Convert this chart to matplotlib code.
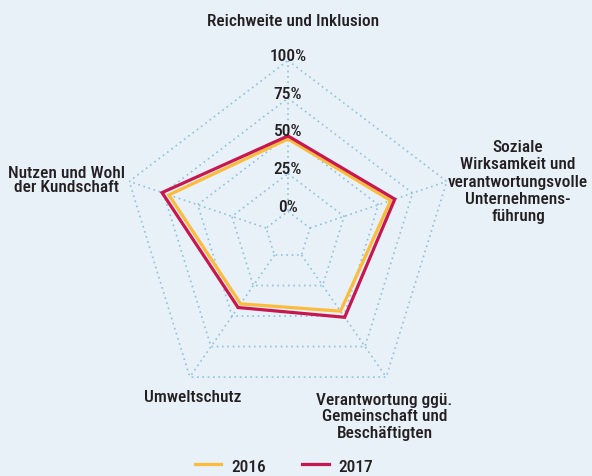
import numpy as np
import matplotlib
matplotlib.use("Agg")
import matplotlib.pyplot as plt
from matplotlib import font_manager

# ---------------- data ----------------
categories = [
    "Reichweite und Inklusion",
    "Soziale\nWirksamkeit und\nverantwortungsvolle\nUnternehmens-\nführung",
    "Verantwortung ggü.\nGemeinschaft und\nBeschäftigten",
    "Umweltschutz",
    "Nutzen und Wohl\nder Kundschaft",
]
values_2016 = [48, 59, 46, 40, 71]
values_2017 = [50, 62, 51, 43, 76]
series_names = ["2016", "2017"]
ring_levels = [0, 25, 50, 75, 100]
ring_labels = ["0%", "25%", "50%", "75%", "100%"]

# ---------------- style ----------------
BG = "#e8f0f8"
GRID = "#8cc3da"
TXT = "#231f20"
C2016 = "#fbbc3c"
C2017 = "#c8174f"

avail = {f.name for f in font_manager.fontManager.ttflist}
fams = [f for f in ["Liberation Sans Narrow", "Roboto Condensed", "Liberation Sans", "DejaVu Sans"] if f in avail]
plt.rcParams["font.family"] = fams
plt.rcParams["font.weight"] = "medium"
FS = 12.5

W, H = 592, 477
fig = plt.figure(figsize=(W / 100, H / 100), dpi=100, facecolor=BG)

cx, cy = 288, 236.5      # centre in pixels (from top)
Rx, Ry = 167, 175        # radii of 100% ring
ax = fig.add_axes([(cx - Rx) / W, (H - cy - Ry) / H, 2 * Rx / W, 2 * Ry / H],
                  projection="polar")
ax.set_aspect("auto")
ax.set_theta_offset(np.pi / 2)
ax.set_theta_direction(-1)
ax.set_ylim(-16, 100)
ax.set_axis_off()

n = len(categories)
angles = np.linspace(0, 2 * np.pi, n, endpoint=False)
ang_c = np.append(angles, angles[0])

# grid rings (pentagons) and spokes
for lvl in ring_levels:
    ax.plot(ang_c, [lvl] * (n + 1), color=GRID, lw=1.2, ls=(0, (1, 2.2)),
            solid_joinstyle="miter", zorder=1)
for a in angles:
    ax.plot([a, a], [ring_levels[0], ring_levels[-1]], color=GRID, lw=1.2,
            ls=(0, (1, 2.2)), zorder=1)

# data
h1, = ax.plot(ang_c, values_2016 + values_2016[:1], color=C2016, lw=2.3,
              solid_joinstyle="miter", zorder=3, label=series_names[0])
h2, = ax.plot(ang_c, values_2017 + values_2017[:1], color=C2017, lw=2.3,
              solid_joinstyle="miter", zorder=4, label=series_names[1])

# radial labels along the top spoke
for lvl, lab in zip(ring_levels, ring_labels):
    ax.annotate(lab, xy=(0, lvl), xytext=(0, 5), textcoords="offset pixels",
                ha="center", va="center", fontsize=FS, color=TXT, zorder=5)

# category labels (pixel positions, from top) and line spacing
label_pos = [
    (293, 22, 1.0),
    (518, 182, 1.18),
    (384.5, 417, 1.12),
    (193, 398, 1.0),
    (66, 180.5, 1.0),
]
for lab, (x, y, lsp) in zip(categories, label_pos):
    fig.text(x / W, 1 - y / H, lab, ha="center", va="center", multialignment="center",
             fontsize=FS, color=TXT, linespacing=lsp)

fig.legend(handles=[h1, h2], loc="center", bbox_to_anchor=(284 / W, 1 - 467 / H),
           ncol=2, frameon=False, fontsize=FS, handlelength=1.55,
           handletextpad=0.55, columnspacing=2.1, labelcolor=TXT)

fig.savefig("out.png", dpi=100, facecolor=BG)
